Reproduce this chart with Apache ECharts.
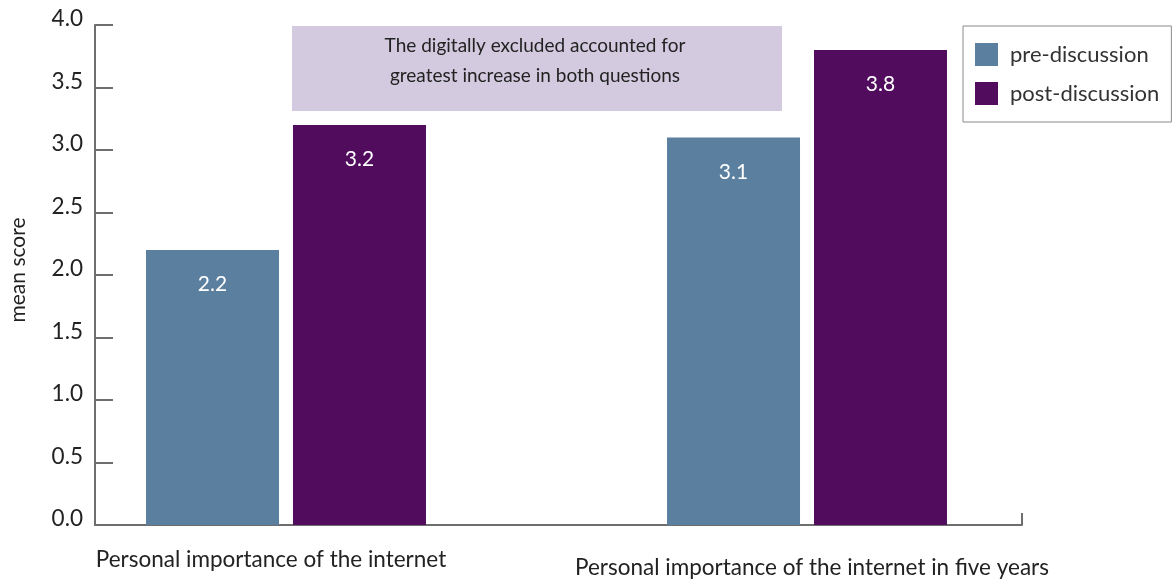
<!DOCTYPE html>
<html>
<head>
<meta charset="utf-8">
<script src="https://cdn.jsdelivr.net/npm/echarts@6/dist/echarts.min.js"></script>
<style>
  html, body { margin: 0; padding: 0; background: #fff; }
  #chart { width: 1172px; height: 579px; }
</style>
</head>
<body>
<div id="chart"></div>
<script>
// Mean scores before and after discussion
const categories = ['Personal importance of the internet', 'Personal importance of the internet in five years'];
const preDiscussion = [2.2, 3.1];
const postDiscussion = [3.2, 3.8];
const seriesNames = ['pre-discussion', 'post-discussion'];
const yAxisName = 'mean score';
const noteText = 'The digitally excluded accounted for\ngreatest increase in both questions';

const FONT = 'Lato, "Open Sans", sans-serif';
const AXIS_GREY = '#6e6e6e';
const PRE_COLOR = '#5b7f9e';
const POST_COLOR = '#510c5e';

const chart = echarts.init(document.getElementById('chart'), null, { renderer: 'canvas' });

const barLabel = {
  show: true,
  position: 'insideTop',
  distance: 24,
  color: '#ffffff',
  fontSize: 21,
  fontFamily: FONT,
  formatter: p => p.value.toFixed(1)
};

chart.setOption({
  animation: false,
  textStyle: { fontFamily: FONT },
  grid: [
    // frame grid: carries the visible axes
    { left: 92, right: 150, top: 25, bottom: 54 },
    // bar grid: carries the category scale for the bars
    { left: 25.5, right: 104.5, top: 25, bottom: 54 }
  ],
  xAxis: [
    {
      gridIndex: 0, type: 'value', min: 0, max: 1, interval: 1,
      axisLine: { show: true, lineStyle: { color: AXIS_GREY, width: 2 } },
      axisTick: { show: true, inside: true, length: 12, lineStyle: { color: AXIS_GREY, width: 2 } },
      axisLabel: { show: false },
      splitLine: { show: false }
    },
    {
      gridIndex: 1, type: 'category', data: categories,
      axisLine: { show: false },
      axisTick: { show: false },
      axisLabel: {
        margin: 23,
        interval: 0,
        formatter: (v, i) => (i === 0 ? '{a|' + v + '}' : '{b|' + v + '}'),
        rich: {
          a: { fontSize: 22.5, color: '#222', fontFamily: FONT, padding: [0, 30, 0, 0] },
          b: { fontSize: 22.5, color: '#222', fontFamily: FONT, padding: [8, 0, 0, 10] }
        }
      }
    }
  ],
  yAxis: [
    {
      gridIndex: 0, type: 'value', min: 0, max: 4, interval: 0.5,
      name: yAxisName, nameLocation: 'middle', nameGap: 66, nameRotate: 90,
      nameTextStyle: { fontSize: 21, color: '#222', fontFamily: FONT, padding: [0, 0, 0, 10] },
      axisLine: { show: true, lineStyle: { color: AXIS_GREY, width: 2 } },
      axisTick: { show: true, inside: true, length: 18, lineStyle: { color: AXIS_GREY, width: 2 } },
      axisLabel: {
        margin: 12,
        formatter: v => '{t|' + v.toFixed(1) + '}',
        rich: {
          // tick labels sit slightly above their tick marks
          t: { fontSize: 22.5, color: '#222', fontFamily: FONT, padding: [0, 0, 12, 0] }
        }
      },
      splitLine: { show: false }
    },
    { gridIndex: 1, type: 'value', min: 0, max: 4, show: false }
  ],
  legend: {
    data: seriesNames,
    orient: 'vertical',
    left: 963, top: 26,
    padding: [17, 12, 17, 12],
    itemWidth: 23, itemHeight: 23, itemGap: 16,
    icon: 'rect',
    borderColor: '#8a8a8a', borderWidth: 1,
    textStyle: { fontSize: 22, color: '#333', fontFamily: FONT, padding: [0, 0, 0, 7] }
  },
  graphic: [
    {
      type: 'group',
      children: [
        { type: 'rect', shape: { x: 292, y: 26, width: 490, height: 85 }, style: { fill: '#d3cadf' } },
        {
          type: 'text', x: 535, y: 61,
          style: {
            text: noteText, fill: '#222', font: '19px ' + FONT,
            align: 'center', verticalAlign: 'middle', lineHeight: 30
          }
        }
      ]
    }
  ],
  series: [
    {
      name: seriesNames[0], type: 'bar', xAxisIndex: 1, yAxisIndex: 1,
      data: preDiscussion, barWidth: 133, barGap: '10.5%',
      itemStyle: { color: PRE_COLOR }, label: barLabel
    },
    {
      name: seriesNames[1], type: 'bar', xAxisIndex: 1, yAxisIndex: 1,
      data: postDiscussion, barWidth: 133, barGap: '10.5%',
      itemStyle: { color: POST_COLOR }, label: barLabel
    }
  ]
});
</script>
</body>
</html>
